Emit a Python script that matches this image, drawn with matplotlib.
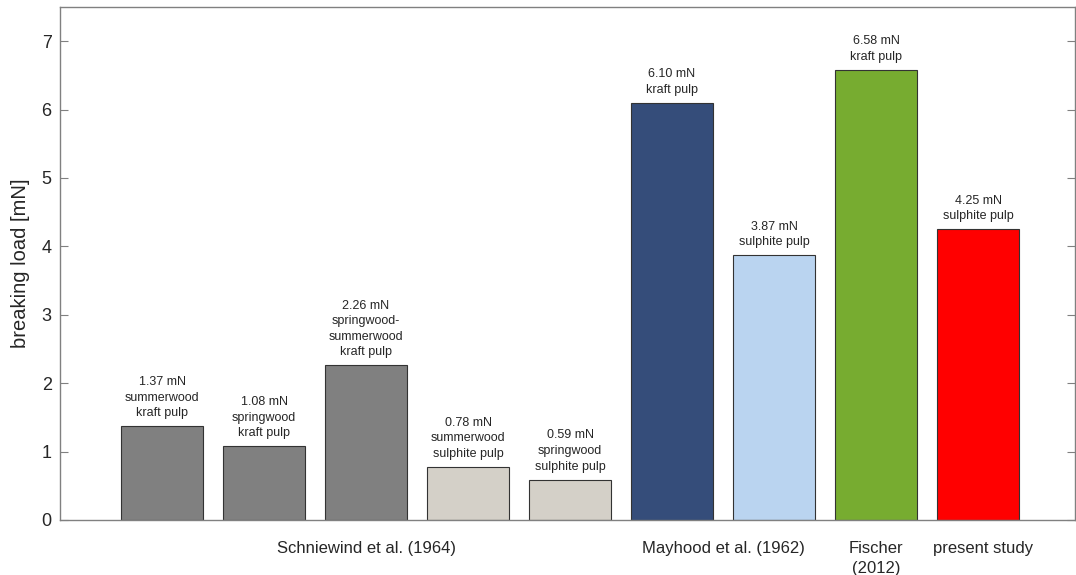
import matplotlib
matplotlib.use("Agg")
import matplotlib.pyplot as plt
import matplotlib.transforms as mtransforms

plt.rcParams["font.family"] = ["Liberation Sans", "DejaVu Sans"]

# breaking load values (mN) for each pulp sample
loads = [1.37, 1.08, 2.26, 0.78, 0.59, 6.10, 3.87, 6.58, 4.25]
descriptions = [
    "summerwood\nkraft pulp",
    "springwood\nkraft pulp",
    "springwood-\nsummerwood\nkraft pulp",
    "summerwood\nsulphite pulp",
    "springwood\nsulphite pulp",
    "kraft pulp",
    "sulphite pulp",
    "kraft pulp",
    "sulphite pulp",
]
bar_colors = ["#808080", "#808080", "#808080", "#D4D0C8", "#D4D0C8",
              "#354D7A", "#BAD4F0", "#77AC30", "#FF0000"]

# studies and the bar positions they cover
sources = ["Schniewind et al. (1964)", "Mayhood et al. (1962)", "Fischer\n(2012)", "present study"]
source_pos = [3, 6.5, 8, 9.05]

positions = list(range(1, len(loads) + 1))

fig = plt.figure(figsize=(10.76, 5.75), dpi=100)
ax = fig.add_axes([60 / 1076, 55 / 575, 1015 / 1076, 513 / 575])

ax.bar(positions, loads, width=0.8, color=bar_colors, edgecolor="#333333", linewidth=0.8)

for x, v, d in zip(positions, loads, descriptions):
    ax.annotate(f"{v:.2f} mN\n{d}", (x, v), xytext=(0, 5), textcoords="offset points",
                ha="center", va="bottom", fontsize=9, color="#262626", linespacing=1.4)

ax.set_xlim(0, 9.95)
ax.set_ylim(0, 7.5)
ax.set_xticks([])
ax.set_yticks(range(8))
ax.tick_params(axis="y", direction="in", length=6, color="#808080", labelsize=13,
               labelcolor="#262626", right=True, pad=6)
for sp in ax.spines.values():
    sp.set_color("#808080")
    sp.set_linewidth(1.0)
ax.set_ylabel("breaking load [mN]", fontsize=14.5, color="#262626", labelpad=8)

trans = mtransforms.blended_transform_factory(ax.transData, ax.transAxes)
for s, xp in zip(sources, source_pos):
    ax.text(xp, -0.04, s, transform=trans, ha="center", va="top", fontsize=12,
            color="#262626", linespacing=1.45)

fig.savefig("out.png", dpi=100)
